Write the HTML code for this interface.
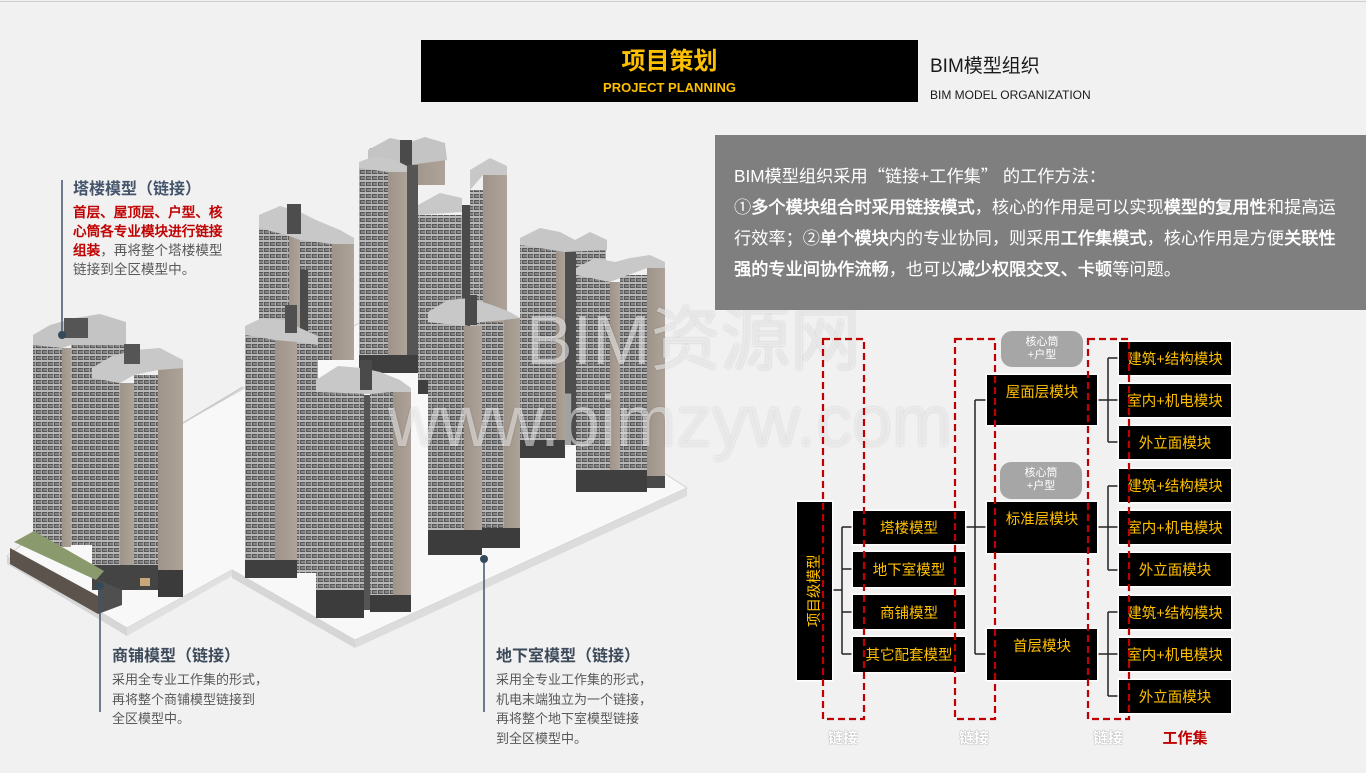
<!DOCTYPE html>
<html><head><meta charset="utf-8">
<style>
*{margin:0;padding:0;box-sizing:border-box}
body{width:1366px;height:773px;background:#f1f1f1;position:relative;overflow:hidden;font-family:"Liberation Sans","Noto Sans CJK SC",sans-serif}
.abs{position:absolute}
.bx{position:absolute;background:#000;box-shadow:0 0 0 1.5px #fff;color:#ffc000;font-size:14.5px;text-align:center;white-space:nowrap}
.c{display:flex;align-items:center;justify-content:center}
.top{padding-top:8px;line-height:20px}
.pill{position:absolute;background:#a6a6a6;border-radius:11px;color:#fff;font-size:11px;line-height:13px;text-align:center;padding-top:4.5px}
.nw{white-space:nowrap}
.fb{font-weight:normal;-webkit-text-stroke:0.55px currentColor}
.cjk{font-family:"Noto Sans CJK SC",sans-serif}
</style></head><body>
<div class="abs" style="left:0;top:1px;width:1366px;height:1px;background:#cfcfcf"></div>

<!-- buildings -->
<svg class="abs" style="left:0;top:0" width="700" height="773" viewBox="0 0 700 773">
<defs>
<pattern id="w" width="6" height="6" patternUnits="userSpaceOnUse"><rect width="6" height="6" fill="#585858"/><rect width="6" height="2" fill="#b8b8b8"/><rect x="1" y="3" width="4" height="2" fill="#868686"/><rect x="5" y="2" width="1" height="4" fill="#a5a5a5"/></pattern>
<linearGradient id="t" x1="0" x2="1"><stop offset="0" stop-color="#9f948a"/><stop offset="1" stop-color="#aea399"/></linearGradient>
</defs>
<!-- slab -->
<polygon points="7,556 183,423 400,300 687,488 355,640 232,570 127,628" fill="#f8f8f8" stroke="#d0d0d0" stroke-width="1"/>
<polygon points="7,556 127,628 127,636 7,564" fill="#d6d6d6"/>
<polygon points="127,628 232,570 232,576 127,636" fill="#e0e0e0"/>
<polygon points="232,570 355,640 355,648 232,578" fill="#d6d6d6"/>
<polygon points="355,640 687,488 687,496 355,648" fill="#dcdcdc"/>
<line x1="183" y1="423" x2="243" y2="387" stroke="#c8c8c8" stroke-width="1.5"/>

<!-- C1 -->
<rect x="259" y="228" width="30" height="132" fill="url(#w)"/>
<rect x="289" y="236" width="11" height="124" fill="url(#t)"/>
<rect x="300" y="240" width="32" height="120" fill="url(#w)"/>
<rect x="332" y="244" width="22" height="116" fill="url(#t)"/>
<polygon points="259,228 259,215 280,206 300,212 316,220 340,230 354,238 354,244 332,244 300,240 289,236" fill="#c8c8c8"/>
<rect x="287" y="204" width="14" height="30" fill="#4d4d4d"/>
<rect x="300" y="270" width="8" height="90" fill="#4a4a4a"/>

<!-- C2 -->
<rect x="370" y="148" width="40" height="30" fill="url(#w)"/>
<rect x="410" y="145" width="35" height="40" fill="url(#t)"/>
<polygon points="368,150 390,138 410,142 425,137 445,143 447,160 410,165 368,160" fill="#c4c4c4"/>
<rect x="400" y="140" width="12" height="40" fill="#4a4a4a"/>
<rect x="359" y="168" width="29" height="197" fill="url(#w)"/>
<rect x="388" y="172" width="19" height="193" fill="url(#t)"/>
<rect x="407" y="165" width="11" height="205" fill="#555"/>
<rect x="418" y="215" width="44" height="178" fill="url(#w)"/>
<rect x="462" y="205" width="8" height="185" fill="#4a4a4a"/>
<rect x="470" y="190" width="13" height="200" fill="url(#w)"/>
<rect x="483" y="175" width="24" height="215" fill="url(#t)"/>
<polygon points="359,168 359,162 375,156 395,160 407,166 407,172 388,172" fill="#c8c8c8"/>
<polygon points="418,215 418,205 440,193 462,198 462,212" fill="#c8c8c8"/>
<polygon points="470,190 470,170 490,158 507,166 507,175 483,175" fill="#c8c8c8"/>
<rect x="359" y="355" width="59" height="18" fill="#3f3f3f"/>
<rect x="418" y="380" width="30" height="14" fill="#3f3f3f"/>

<!-- R cluster -->
<rect x="576" y="240" width="30" height="35" fill="url(#w)"/>
<rect x="520" y="245" width="36" height="210" fill="url(#w)"/>
<rect x="556" y="250" width="9" height="200" fill="url(#t)"/>
<rect x="565" y="245" width="11" height="200" fill="#4e4e4e"/>
<polygon points="520,245 520,238 540,228 560,232 575,240 590,232 607,240 607,250 565,252" fill="#c6c6c6"/>
<rect x="520" y="440" width="45" height="18" fill="#3f3f3f"/>
<rect x="576" y="275" width="34" height="215" fill="url(#w)"/>
<rect x="610" y="282" width="10" height="205" fill="url(#t)"/>
<rect x="620" y="275" width="27" height="205" fill="url(#w)"/>
<rect x="647" y="265" width="18" height="215" fill="url(#t)"/>
<polygon points="576,275 576,268 595,258 615,262 630,258 650,255 665,262 665,268 647,268 620,278 610,282" fill="#c8c8c8"/>
<rect x="576" y="470" width="71" height="22" fill="#3f3f3f"/>
<rect x="647" y="476" width="18" height="12" fill="#4a4a4a"/>

<!-- L cluster -->
<rect x="96" y="330" width="30" height="40" fill="url(#w)"/>
<rect x="33" y="345" width="29" height="202" fill="url(#w)"/>
<rect x="62" y="348" width="9" height="199" fill="url(#t)"/>
<rect x="71" y="335" width="25" height="210" fill="url(#w)"/>
<polygon points="33,345 33,335 50,325 75,318 100,314 126,322 126,345 96,345 71,345 62,348" fill="#c4c4c4"/>
<rect x="64" y="318" width="24" height="20" fill="#555"/>
<rect x="92" y="378" width="28" height="197" fill="url(#w)"/>
<rect x="120" y="383" width="14" height="192" fill="url(#t)"/>
<rect x="134" y="375" width="24" height="200" fill="url(#w)"/>
<rect x="158" y="368" width="25" height="207" fill="url(#t)"/>
<polygon points="92,378 92,368 112,356 135,350 160,348 183,360 183,368 158,370 134,375 120,383" fill="#c8c8c8"/>
<rect x="124" y="344" width="16" height="20" fill="#555"/>
<rect x="92" y="565" width="66" height="25" fill="#444"/>
<rect x="158" y="570" width="25" height="27" fill="#3b3b3b"/>
<polygon points="10,548 98,596 98,614 10,564" fill="#5c544c"/>
<polygon points="14,542 34,531 104,571 96,580" fill="#8b9a6d"/>
<polygon points="98,580 122,590 122,605 98,614" fill="#4f4f4f"/>
<rect x="140" y="578" width="10" height="8" fill="#c9a878"/>

<!-- F1 -->
<rect x="245" y="335" width="30" height="240" fill="url(#w)"/>
<rect x="275" y="340" width="22" height="232" fill="url(#t)"/>
<rect x="297" y="338" width="21" height="235" fill="url(#w)"/>
<polygon points="245,335 245,326 262,318 285,320 300,328 318,336 318,345 297,342 275,340" fill="#c8c8c8"/>
<rect x="285" y="305" width="12" height="28" fill="#505050"/>
<rect x="245" y="560" width="52" height="18" fill="#3f3f3f"/>

<!-- F2 -->
<rect x="316" y="392" width="48" height="225" fill="url(#w)"/>
<rect x="364" y="395" width="6" height="215" fill="#555"/>
<rect x="370" y="392" width="23" height="218" fill="url(#w)"/>
<rect x="393" y="390" width="18" height="220" fill="url(#t)"/>
<polygon points="316,392 316,380 338,366 362,368 380,372 400,380 411,388 411,392 393,392 370,394" fill="#c8c8c8"/>
<rect x="360" y="360" width="12" height="30" fill="#4a4a4a"/>
<rect x="316" y="590" width="48" height="28" fill="#3c3c3c"/>
<rect x="370" y="595" width="41" height="17" fill="#3c3c3c"/>

<!-- F3 -->
<rect x="428" y="322" width="36" height="220" fill="url(#w)"/>
<rect x="464" y="326" width="18" height="216" fill="url(#t)"/>
<rect x="482" y="322" width="22" height="220" fill="url(#w)"/>
<rect x="504" y="318" width="16" height="224" fill="url(#t)"/>
<polygon points="428,322 428,312 448,300 470,298 492,305 510,312 520,318 504,320 482,322 464,326" fill="#c8c8c8"/>
<rect x="465" y="295" width="12" height="30" fill="#4a4a4a"/>
<rect x="428" y="530" width="54" height="25" fill="#3c3c3c"/>
<rect x="482" y="528" width="38" height="20" fill="#3c3c3c"/>

<!-- label lines -->
<line x1="62" y1="180" x2="62" y2="335" stroke="#44546a" stroke-width="1.5"/>
<circle cx="62" cy="335" r="4" fill="#34495a"/>
<line x1="100" y1="586" x2="100" y2="712" stroke="#44546a" stroke-width="1.5"/>
<circle cx="100" cy="586" r="4" fill="#34495a"/>
<line x1="484" y1="559" x2="484" y2="712" stroke="#44546a" stroke-width="1.5"/>
<circle cx="484" cy="559" r="4" fill="#34495a"/>
</svg>

<!-- watermark -->
<div class="abs nw" style="left:526px;top:300px;font-size:70px;line-height:80px;color:rgba(255,255,255,0.55);text-shadow:0 0 2px rgba(0,0,0,0.18)">BIM资源网</div>
<div class="abs nw" style="left:388px;top:380px;font-size:72px;line-height:84px;color:rgba(255,255,255,0.5);text-shadow:0 0 2px rgba(0,0,0,0.15)">www.bimzyw.com</div>

<!-- header -->
<div class="abs" style="left:421px;top:40px;width:497px;height:62px;background:#000">
  <div class="abs nw" style="left:0;top:8px;width:497px;text-align:center;font-size:24px;line-height:28px;font-weight:bold;color:#ffc000">项目策划</div>
  <div class="abs nw" style="left:0;top:40px;width:497px;text-align:center;font-size:13px;line-height:16px;font-weight:bold;color:#ffc000">PROJECT PLANNING</div>
</div>
<div class="abs nw" style="left:930px;top:55px;font-size:19px;line-height:24px;color:#1a1a1a">BIM模型组织</div>
<div class="abs nw" style="left:930px;top:87px;font-size:12px;line-height:16px;color:#1a1a1a">BIM MODEL ORGANIZATION</div>

<!-- gray paragraph -->
<div class="abs" style="left:715px;top:135px;width:651px;height:175px;background:#7f7f7f"></div>
<div class="abs nw" style="left:734px;top:159px;font-size:17.2px;line-height:31px;color:#fff">
BIM模型组织采用<span class="cjk">“</span>链接+工作集<span class="cjk">”</span> 的工作方法：<br>
①<span class="fb">多个模块组合时采用链接模式</span>，核心的作用是可以实现<span class="fb">模型的复用性</span>和提高运<br>
行效率；②<span class="fb">单个模块</span>内的专业协同，则采用<span class="fb">工作集模式</span>，核心作用是方便<span class="fb">关联性</span><br>
<span class="fb">强的专业间协作流畅</span>，也可以<span class="fb">减少权限交叉、卡顿</span>等问题。
</div>

<!-- left texts -->
<div class="abs nw" style="left:73px;top:179px;font-size:16px;line-height:22px;font-weight:bold;color:#44546a">塔楼模型（链接）</div>
<div class="abs nw" style="left:73px;top:203px;font-size:13.6px;line-height:19px;color:#595959">
<span class="fb" style="color:#c00000">首层、屋顶层、户型、核</span><br>
<span class="fb" style="color:#c00000">心筒各专业模块进行链接</span><br>
<span class="fb" style="color:#c00000">组装</span>，再将整个塔楼模型<br>
链接到全区模型中。
</div>

<div class="abs nw" style="left:112px;top:646px;font-size:16px;line-height:22px;font-weight:bold;color:#3d4a5a">商铺模型（链接）</div>
<div class="abs nw" style="left:112px;top:670px;font-size:13px;line-height:19.5px;color:#595959">采用全专业工作集的形式，<br>再将整个商铺模型链接到<br>全区模型中。</div>

<div class="abs nw" style="left:496px;top:646px;font-size:16px;line-height:22px;font-weight:bold;color:#3d4a5a">地下室模型（链接）</div>
<div class="abs nw" style="left:496px;top:670px;font-size:13px;line-height:19.5px;color:#595959">采用全专业工作集的形式，<br>机电末端独立为一个链接，<br>再将整个地下室模型链接<br>到全区模型中。</div>

<!-- connectors -->
<svg class="abs" style="left:0;top:0" width="1366" height="773">
<g stroke="#222" stroke-width="1.5" fill="none">
<path d="M832 590H842M842 527V654M842 527H853M842 569H853M842 612H853M842 654H853"/>
<path d="M965 527H987M975 400V654M975 400H987M975 654H987"/>
<path d="M1097 400H1119M1108 358V442M1108 358H1119M1108 442H1119"/>
<path d="M1097 527H1119M1108 486V570M1108 486H1119M1108 570H1119"/>
<path d="M1097 654H1119M1108 612V696M1108 612H1119M1108 696H1119"/>
</g>
</svg>

<!-- boxes -->
<div class="bx" style="left:797px;top:502px;width:35px;height:178px"></div>
<div class="abs nw" style="left:779px;top:581px;width:72px;height:20px;line-height:20px;text-align:center;font-size:14.5px;color:#ffc000;transform:rotate(-90deg)">项目级模型</div>

<div class="bx c" style="left:853px;top:511px;width:112px;height:33px">塔楼模型</div>
<div class="bx c" style="left:853px;top:552px;width:112px;height:35px">地下室模型</div>
<div class="bx c" style="left:853px;top:595px;width:112px;height:34px">商铺模型</div>
<div class="bx c" style="left:853px;top:637px;width:112px;height:35px">其它配套模型</div>

<div class="pill" style="left:1001px;top:331px;width:82px;height:36px">核心筒<br>+户型</div>
<div class="pill" style="left:1000px;top:462px;width:82px;height:37px">核心筒<br>+户型</div>

<div class="bx top" style="left:987px;top:375px;width:110px;height:50px">屋面层模块</div>
<div class="bx top" style="left:987px;top:502px;width:110px;height:51px">标准层模块</div>
<div class="bx top" style="left:987px;top:629px;width:110px;height:51px">首层模块</div>

<div class="bx c" style="left:1119px;top:342px;width:112px;height:33px">建筑+结构模块</div>
<div class="bx c" style="left:1119px;top:384px;width:112px;height:33px">室内+机电模块</div>
<div class="bx c" style="left:1119px;top:426px;width:112px;height:33px">外立面模块</div>
<div class="bx c" style="left:1119px;top:469px;width:112px;height:33px">建筑+结构模块</div>
<div class="bx c" style="left:1119px;top:511px;width:112px;height:33px">室内+机电模块</div>
<div class="bx c" style="left:1119px;top:553px;width:112px;height:33px">外立面模块</div>
<div class="bx c" style="left:1119px;top:596px;width:112px;height:33px">建筑+结构模块</div>
<div class="bx c" style="left:1119px;top:638px;width:112px;height:33px">室内+机电模块</div>
<div class="bx c" style="left:1119px;top:680px;width:112px;height:33px">外立面模块</div>

<!-- red dashed -->
<svg class="abs" style="left:0;top:0" width="1366" height="773">
<g stroke="#c00000" stroke-width="2.2" fill="none" stroke-dasharray="7 4">
<rect x="823" y="339" width="41" height="380"/>
<rect x="955" y="339" width="40" height="380"/>
<rect x="1088" y="339" width="41" height="380"/>
</g>
</svg>

<!-- bottom labels -->
<div class="abs nw" style="left:813px;top:729px;width:60px;text-align:center;font-size:15px;line-height:20px;font-weight:bold;color:#fff;text-shadow:0 0 1px #999,0 0 1px #999">链接</div>
<div class="abs nw" style="left:944px;top:729px;width:60px;text-align:center;font-size:15px;line-height:20px;font-weight:bold;color:#fff;text-shadow:0 0 1px #999,0 0 1px #999">链接</div>
<div class="abs nw" style="left:1078px;top:729px;width:60px;text-align:center;font-size:15px;line-height:20px;font-weight:bold;color:#fff;text-shadow:0 0 1px #999,0 0 1px #999">链接</div>
<div class="abs nw" style="left:1150px;top:729px;width:70px;text-align:center;font-size:15px;line-height:20px;font-weight:bold;color:#c00000">工作集</div>
</body></html>
